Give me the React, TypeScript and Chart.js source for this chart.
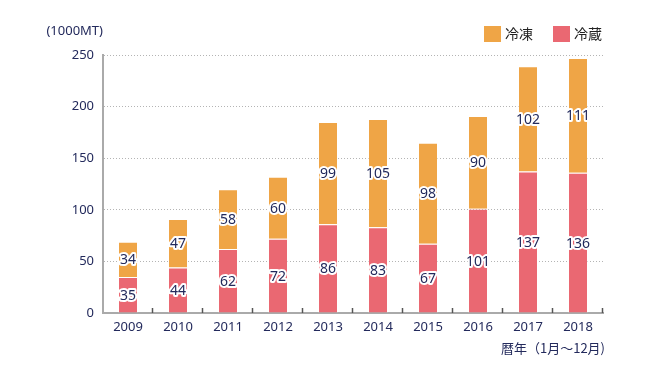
import React, { useEffect, useRef } from "react";
import { Chart, registerables } from "chart.js";

Chart.register(...registerables);

const years = ["2009", "2010", "2011", "2012", "2013", "2014", "2015", "2016", "2017", "2018"];
const chilled = [35, 44, 62, 72, 86, 83, 67, 101, 137, 136]; // 冷蔵
const frozen = [34, 47, 58, 60, 99, 105, 98, 90, 102, 111]; // 冷凍
const yTicks = [0, 50, 100, 150, 200, 250];

const NAVY = "#232a5c";
const NUMFONT = "'Noto Sans', sans-serif";
const JPFONT = "'Noto Sans CJK JP', 'Noto Sans', sans-serif";

const overlay = {
  id: "overlay",
  afterDraw(chart: any) {
    const ctx = chart.ctx;
    const area = chart.chartArea;
    const xs = chart.scales.x;
    ctx.save();
    // small ticks on the x-axis between categories
    ctx.strokeStyle = "#555";
    ctx.lineWidth = 1.5;
    for (let i = 1; i <= years.length; i++) {
      const x = Math.round(xs.left + (xs.width / years.length) * i) - 0.5;
      ctx.beginPath();
      ctx.moveTo(x, area.bottom - 5);
      ctx.lineTo(x, area.bottom);
      ctx.stroke();
    }
    // data labels
    ctx.font = `14px ${NUMFONT}`;
    ctx.textAlign = "center";
    ctx.textBaseline = "middle";
    ctx.lineJoin = "round";
    chart.data.datasets.forEach((ds: any, di: number) => {
      const meta = chart.getDatasetMeta(di);
      meta.data.forEach((el: any, i: number) => {
        const cy = (el.y + el.base) / 2;
        const t = String(ds.data[i]);
        ctx.strokeStyle = "#fff";
        ctx.lineWidth = 4;
        ctx.strokeText(t, el.x, cy + 1);
        ctx.fillStyle = NAVY;
        ctx.fillText(t, el.x, cy + 1);
      });
    });
    // unit labels
    ctx.font = `13px ${NUMFONT}`;
    ctx.textAlign = "right";
    ctx.fillStyle = NAVY;
    ctx.fillText("(1000MT)", 103, 31);
    ctx.font = `13px ${JPFONT}`;
    ctx.fillText("暦年（1月～12月)", 605, 348);
    // legend
    const legendItems = [...chart.data.datasets].reverse();
    const positions = [484, 553];
    ctx.font = `14px ${JPFONT}`;
    ctx.textAlign = "left";
    legendItems.forEach((ds: any, i: number) => {
      const x = positions[i];
      ctx.fillStyle = ds.backgroundColor;
      ctx.fillRect(x, 26, 17, 16);
      ctx.fillStyle = "#222";
      ctx.fillText(ds.label, x + 21, 34);
    });
    ctx.restore();
  },
};

export default function App() {
  const ref = useRef<HTMLCanvasElement>(null);
  useEffect(() => {
    if (!ref.current) return;
    const chart = new Chart(ref.current, {
      type: "bar",
      data: {
        labels: years,
        datasets: [
          {
            label: "冷蔵",
            data: chilled,
            backgroundColor: "#ea6872",
            borderColor: "rgba(255,255,255,0.45)",
            borderWidth: { left: 1, right: 1, top: 1, bottom: 0 },
            borderSkipped: false,
            barPercentage: 0.4,
            categoryPercentage: 1,
          },
          {
            label: "冷凍",
            data: frozen,
            backgroundColor: "#efa546",
            borderColor: "rgba(255,255,255,0.45)",
            borderWidth: { left: 1, right: 1, top: 1, bottom: 0 },
            borderSkipped: false,
            barPercentage: 0.4,
            categoryPercentage: 1,
          },
        ],
      },
      options: {
        animation: false,
        responsive: false,
        layout: { padding: { left: 0, right: 47, top: 55, bottom: 0 } },
        plugins: { legend: { display: false }, tooltip: { enabled: false } },
        scales: {
          x: {
            stacked: true,
            grid: { display: false, drawTicks: false },
            border: { display: true, color: "#aaa", width: 2 },
            ticks: { color: NAVY, font: { size: 13, family: NUMFONT }, padding: 6 },
            afterFit: (s: any) => {
              s.height = 67;
            },
          },
          y: {
            stacked: true,
            min: 0,
            max: 250,
            afterBuildTicks: (s: any) => {
              s.ticks = yTicks.map((v) => ({ value: v }));
            },
            afterFit: (s: any) => {
              s.width = 103;
            },
            grid: {
              color: (c: any) => (c.tick && c.tick.value === 0 ? "rgba(0,0,0,0)" : "#b4b4b4"),
              drawTicks: false,
              lineWidth: 1,
            },
            border: { display: true, color: "#aaa", width: 2, dash: [1, 2] },
            ticks: { color: NAVY, font: { size: 13, family: NUMFONT }, padding: 9 },
          },
        },
      },
      plugins: [overlay],
    });
    return () => chart.destroy();
  }, []);
  return (
    <div style={{ position: "fixed", left: 0, top: 0, width: 650, height: 380, background: "#fff" }}>
      <canvas ref={ref} width={650} height={380} style={{ width: 650, height: 380 }} />
    </div>
  );
}
